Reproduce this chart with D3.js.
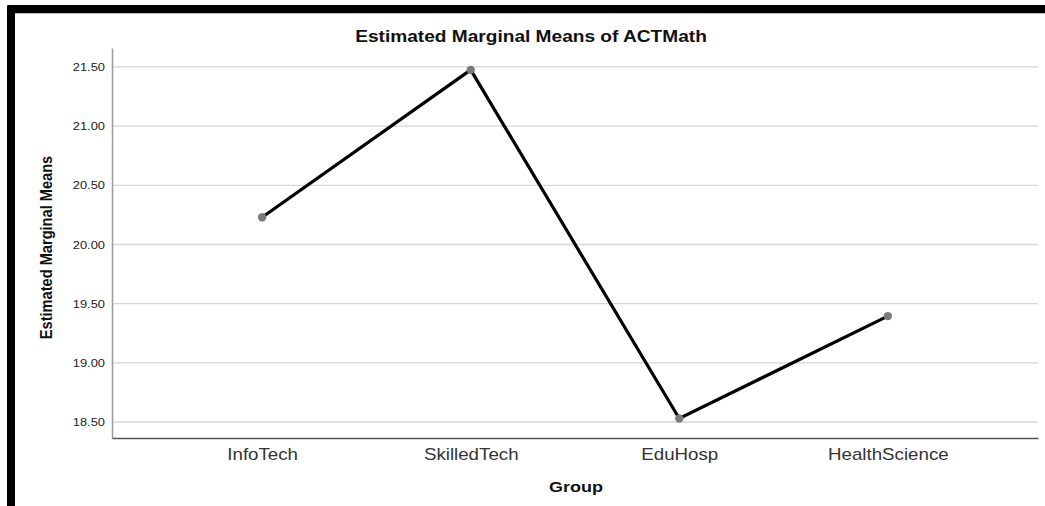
<!DOCTYPE html>
<html><head><meta charset="utf-8">
<script src="https://cdn.jsdelivr.net/npm/d3@7"></script>
<style>html,body{margin:0;padding:0;background:#fff;}svg{display:block;font-family:"Liberation Sans",Arial,sans-serif;}</style>
</head><body>
<svg id="c" width="1045" height="506"></svg>
<script>
const categories = ["InfoTech", "SkilledTech", "EduHosp", "HealthScience"];
const means = [20.23, 21.475, 18.53, 19.395];
const yTicks = [18.5, 19.0, 19.5, 20.0, 20.5, 21.0, 21.5];
const yDomain = [18.365, 21.66];
const title = "Estimated Marginal Means of ACTMath";
const xTitle = "Group";
const yTitle = "Estimated Marginal Means";

const svg = d3.select("#c");
const L = 112, R = 1038, T = 48, B = 438;
const SX = 1.17;

// frame
svg.append("rect").attr("x",7).attr("y",5).attr("width",1045).attr("height",8.3).attr("rx",2).attr("fill","#000");
svg.append("rect").attr("x",7).attr("y",5).attr("width",8).attr("height",510).attr("rx",2).attr("fill","#000");

const x = d3.scalePoint().domain(categories).range([L, R]).padding(0.72);
const y = d3.scaleLinear().domain(yDomain).range([B, T]);

// gridlines
svg.append("g").selectAll("line").data(yTicks).join("line")
  .attr("x1", L).attr("x2", R)
  .attr("y1", d => y(d)).attr("y2", d => y(d))
  .attr("stroke", "#d6d6d6").attr("stroke-width", 1.3);

// y axis
const yAxis = svg.append("g").attr("transform", `translate(${L},0)`)
  .call(d3.axisLeft(y).tickValues(yTicks).tickFormat(d3.format(".2f")).tickSize(0).tickPadding(7));
yAxis.select(".domain").attr("stroke", "#9a9a9a").attr("stroke-width", 1.5);
yAxis.selectAll(".tick text").attr("font-size", 11).attr("fill", "#222")
  .attr("font-family", "Liberation Sans, Arial, sans-serif")
  .attr("x", 0).attr("transform", `translate(-7,0) scale(${SX},1)`);

// x axis
const xAxis = svg.append("g").attr("transform", `translate(0,${B})`)
  .call(d3.axisBottom(x).tickSize(0).tickPadding(0));
xAxis.select(".domain").attr("stroke", "#555").attr("stroke-width", 1.3);
xAxis.selectAll(".tick text").attr("font-size", 16).attr("fill", "#333")
  .attr("font-family", "Liberation Sans, Arial, sans-serif")
  .attr("dy", null).attr("y", null)
  .attr("transform", `translate(0,22) scale(${SX},1)`);

// line
const line = d3.line().x((d,i) => x(categories[i])).y(d => y(d));
svg.append("path").datum(means).attr("d", line)
  .attr("fill", "none").attr("stroke", "#000").attr("stroke-width", 3.2)
  .attr("stroke-linejoin", "miter");

// markers
svg.append("g").selectAll("circle").data(means).join("circle")
  .attr("cx", (d,i) => x(categories[i])).attr("cy", d => y(d))
  .attr("r", 4.2).attr("fill", "#7a7a7a");

// title
svg.append("text").attr("transform", `translate(531,41.5) scale(1.195,1)`)
  .attr("text-anchor", "middle").attr("font-size", 16).attr("font-weight", "bold")
  .attr("fill", "#111").text(title);

// x title
svg.append("text").attr("transform", `translate(576,491.5) scale(1.2,1)`)
  .attr("text-anchor", "middle").attr("font-size", 15).attr("font-weight", "bold")
  .attr("fill", "#111").text(xTitle);

// y title
svg.append("text").attr("transform", `translate(51.5,247.5) rotate(-90) scale(0.86,1)`)
  .attr("text-anchor", "middle").attr("font-size", 17).attr("font-weight", "bold")
  .attr("fill", "#111").text(yTitle);
</script>
</body></html>
